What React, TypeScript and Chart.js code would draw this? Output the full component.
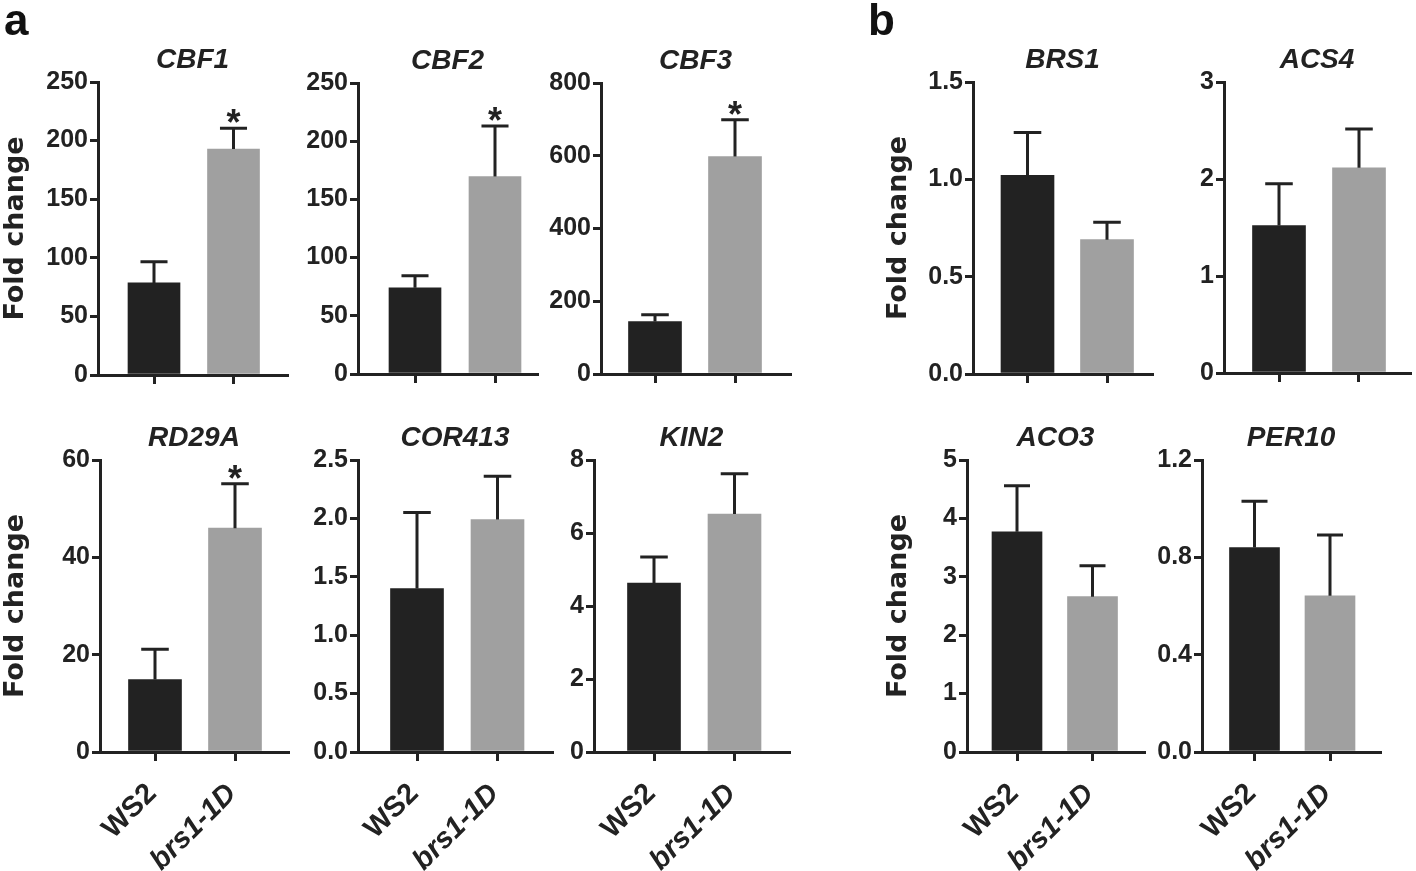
import React, { useEffect, useRef } from 'react';
import { Chart, registerables } from 'chart.js';

Chart.register(...registerables);

// ---------- data ----------
const groups = ['WS2', 'brs1-1D'];
const barColors = ['#222222', '#a0a0a0'];

const cbf1Mean = [78.6, 192.8];
const cbf1Err = [18.1, 17.7];
const cbf1Sig = [false, true];

const cbf2Mean = [74, 169.7];
const cbf2Err = [10.3, 43.3];
const cbf2Sig = [false, true];

const cbf3Mean = [144, 598];
const cbf3Err = [19, 101];
const cbf3Sig = [false, true];

const rd29aMean = [14.9, 46];
const rd29aErr = [6.2, 9.1];
const rd29aSig = [false, true];

const cor413Mean = [1.4, 1.99];
const cor413Err = [0.65, 0.37];
const cor413Sig = [false, false];

const kin2Mean = [4.63, 6.52];
const kin2Err = [0.71, 1.1];
const kin2Sig = [false, false];

const brs1Mean = [1.02, 0.69];
const brs1Err = [0.22, 0.09];
const brs1Sig = [false, false];

const acs4Mean = [1.52, 2.115];
const acs4Err = [0.43, 0.4];
const acs4Sig = [false, false];

const aco3Mean = [3.77, 2.66];
const aco3Err = [0.79, 0.53];
const aco3Sig = [false, false];

const per10Mean = [0.84, 0.642];
const per10Err = [0.19, 0.25];
const per10Sig = [false, false];

// y axis: [max, step, decimals]
const cbf1Axis = [250, 50, 0];
const cbf2Axis = [250, 50, 0];
const cbf3Axis = [800, 200, 0];
const rd29aAxis = [60, 20, 0];
const cor413Axis = [2.5, 0.5, 1];
const kin2Axis = [8, 2, 0];
const brs1Axis = [1.5, 0.5, 1];
const acs4Axis = [3, 1, 0];
const aco3Axis = [5, 1, 0];
const per10Axis = [1.2, 0.4, 1];

const yTitleText = 'Fold change';

// ---------- styles / layout ----------
const INK = '#222222';
const FONT = '"Liberation Sans", Arial, Helvetica, sans-serif';
const TITLE_SIZE = 28;
const TITLE_LH = TITLE_SIZE * 1.2;
const TITLE_GAP = 22;

type Layout = {
  axisX: number; top: number; bottom: number; right: number;
  t0: number; t1: number; barW: number; yW: number; xLabels: boolean; yTitle: boolean;
};

const panels = [
  { gene: 'CBF1', mean: cbf1Mean, err: cbf1Err, sig: cbf1Sig, axis: cbf1Axis,
    L: { axisX: 98, top: 82, bottom: 375, right: 287, t0: 154, t1: 233.5, barW: 52, yW: 98, xLabels: false, yTitle: true } },
  { gene: 'CBF2', mean: cbf2Mean, err: cbf2Err, sig: cbf2Sig, axis: cbf2Axis,
    L: { axisX: 358, top: 83, bottom: 374, right: 537, t0: 415, t1: 495, barW: 52, yW: 75, xLabels: false, yTitle: false } },
  { gene: 'CBF3', mean: cbf3Mean, err: cbf3Err, sig: cbf3Sig, axis: cbf3Axis,
    L: { axisX: 601, top: 83, bottom: 374, right: 790, t0: 655, t1: 735, barW: 53, yW: 75, xLabels: false, yTitle: false } },
  { gene: 'RD29A', mean: rd29aMean, err: rd29aErr, sig: rd29aSig, axis: rd29aAxis,
    L: { axisX: 100, top: 460, bottom: 752, right: 288, t0: 155, t1: 235, barW: 53, yW: 100, xLabels: true, yTitle: true } },
  { gene: 'COR413', mean: cor413Mean, err: cor413Err, sig: cor413Sig, axis: cor413Axis,
    L: { axisX: 358, top: 460, bottom: 752, right: 552, t0: 417, t1: 497.5, barW: 53, yW: 75, xLabels: true, yTitle: false } },
  { gene: 'KIN2', mean: kin2Mean, err: kin2Err, sig: kin2Sig, axis: kin2Axis,
    L: { axisX: 594, top: 460, bottom: 752, right: 789, t0: 654, t1: 734.5, barW: 53, yW: 75, xLabels: true, yTitle: false } },
  { gene: 'BRS1', mean: brs1Mean, err: brs1Err, sig: brs1Sig, axis: brs1Axis,
    L: { axisX: 973, top: 82, bottom: 374, right: 1152, t0: 1027.5, t1: 1107, barW: 53, yW: 90, xLabels: false, yTitle: true } },
  { gene: 'ACS4', mean: acs4Mean, err: acs4Err, sig: acs4Sig, axis: acs4Axis,
    L: { axisX: 1224, top: 82, bottom: 373, right: 1410, t0: 1279, t1: 1359, barW: 53, yW: 75, xLabels: false, yTitle: false } },
  { gene: 'ACO3', mean: aco3Mean, err: aco3Err, sig: aco3Sig, axis: aco3Axis,
    L: { axisX: 967, top: 460, bottom: 752, right: 1144, t0: 1017, t1: 1092.5, barW: 50, yW: 84, xLabels: true, yTitle: true } },
  { gene: 'PER10', mean: per10Mean, err: per10Err, sig: per10Sig, axis: per10Axis,
    L: { axisX: 1202, top: 460, bottom: 752, right: 1380, t0: 1254.5, t1: 1330, barW: 50, yW: 75, xLabels: true, yTitle: false } },
];

function errorBarPlugin(err: number[], sig: boolean[]) {
  return {
    id: 'errbars',
    afterDatasetsDraw(chart: any) {
      const { ctx } = chart;
      const y = chart.scales.y;
      const meta = chart.getDatasetMeta(0);
      const data = chart.data.datasets[0].data as any[];
      ctx.save();
      ctx.strokeStyle = INK;
      ctx.fillStyle = INK;
      ctx.lineWidth = 3;
      meta.data.forEach((bar: any, i: number) => {
        const v = data[i].y;
        const top = y.getPixelForValue(v + err[i]);
        const half = bar.width * 0.26;
        ctx.beginPath();
        ctx.moveTo(bar.x, bar.y);
        ctx.lineTo(bar.x, top);
        ctx.moveTo(bar.x - half, top);
        ctx.lineTo(bar.x + half, top);
        ctx.stroke();
        if (sig[i]) {
          ctx.font = `bold 36px ${FONT}`;
          ctx.textAlign = 'center';
          ctx.textBaseline = 'alphabetic';
          ctx.fillText('*', bar.x, top + 7);
        }
      });
      ctx.restore();
    },
  };
}

function MiniChart({ p }: { p: any }) {
  const ref = useRef<HTMLCanvasElement>(null);
  const L: Layout = p.L;
  const left = Math.round(L.axisX - L.yW);
  const canvasTop = Math.round(L.top - TITLE_GAP - TITLE_LH / 2);
  const xH = L.xLabels ? 871 - L.bottom : 22;
  const padRight = 4;
  const width = Math.round(L.right - left + padRight);
  const height = Math.round(L.bottom - canvasTop + xH);

  useEffect(() => {
    const unit = L.t1 - L.t0;
    const [yMax, yStep, dec] = p.axis;
    const chart = new Chart(ref.current as HTMLCanvasElement, {
      type: 'bar',
      data: {
        datasets: [{
          data: p.mean.map((v: number, i: number) => ({ x: i, y: v })),
          backgroundColor: barColors,
          borderWidth: 0,
          barThickness: L.barW,
        }],
      },
      options: {
        animation: false,
        responsive: false,
        events: [],
        layout: { padding: { left: 0, right: padRight, top: 0, bottom: 0 } },
        plugins: {
          legend: { display: false },
          tooltip: { enabled: false },
          title: {
            display: true,
            text: p.gene,
            fullSize: false,
            color: INK,
            font: { family: FONT, size: TITLE_SIZE, weight: 'bold', style: 'italic', lineHeight: 1.2 },
            padding: { top: 0, bottom: L.top - canvasTop - TITLE_LH },
          },
        },
        scales: {
          x: {
            type: 'linear',
            offset: false,
            min: -(L.t0 - L.axisX) / unit,
            max: 1 + (L.right - L.t1) / unit,
            afterBuildTicks: (s: any) => { s.ticks = groups.map((_, i) => ({ value: i })); },
            afterFit: (s: any) => { s.height = xH; },
            grid: { offset: false, drawOnChartArea: false, drawTicks: true, tickLength: 9, lineWidth: 3, color: INK },
            border: { display: true, width: 3, color: INK },
            ticks: {
              display: L.xLabels,
              autoSkip: false,
              minRotation: 45,
              maxRotation: 45,
              padding: 16,
              labelOffset: -3,
              color: INK,
              font: (c: any) => ({ family: FONT, size: 29, weight: 'bold', style: c.index === 1 ? 'italic' : 'normal' }),
              callback: (v: any) => groups[v] ?? '',
            },
          },
          y: {
            min: 0,
            max: yMax,
            afterFit: (s: any) => { s.width = L.yW; },
            grid: { drawOnChartArea: false, drawTicks: true, tickLength: 8, lineWidth: 3, color: INK },
            border: { display: true, width: 3, color: INK },
            ticks: {
              stepSize: yStep,
              padding: 2,
              color: INK,
              font: { family: FONT, size: 25, weight: 'bold' },
              callback: (v: any) => Number(v).toFixed(dec),
            },
            title: {
              display: L.yTitle,
              text: yTitleText,
              color: INK,
              padding: 0,
              font: { family: '"DejaVu Sans", sans-serif', size: 27, weight: 'bold', lineHeight: 1.2 },
            },
          },
        },
      } as any,
      plugins: [errorBarPlugin(p.err, p.sig)],
    });
    return () => chart.destroy();
  }, []);

  return (
    <canvas
      ref={ref}
      width={width}
      height={height}
      style={{ position: 'absolute', left, top: canvasTop, width, height }}
    />
  );
}

export default function App() {
  const letter: React.CSSProperties = {
    position: 'absolute', top: -2, fontFamily: FONT, fontWeight: 'bold',
    fontSize: 44, lineHeight: '44px', color: '#111',
  };
  return (
    <div style={{ position: 'absolute', left: 0, top: 0, width: 1416, height: 871, background: '#fff', overflow: 'hidden' }}>
      {panels.map((p) => <MiniChart key={p.gene} p={p} />)}
      <div style={{ ...letter, left: 4 }}>a</div>
      <div style={{ ...letter, left: 868 }}>b</div>
    </div>
  );
}
